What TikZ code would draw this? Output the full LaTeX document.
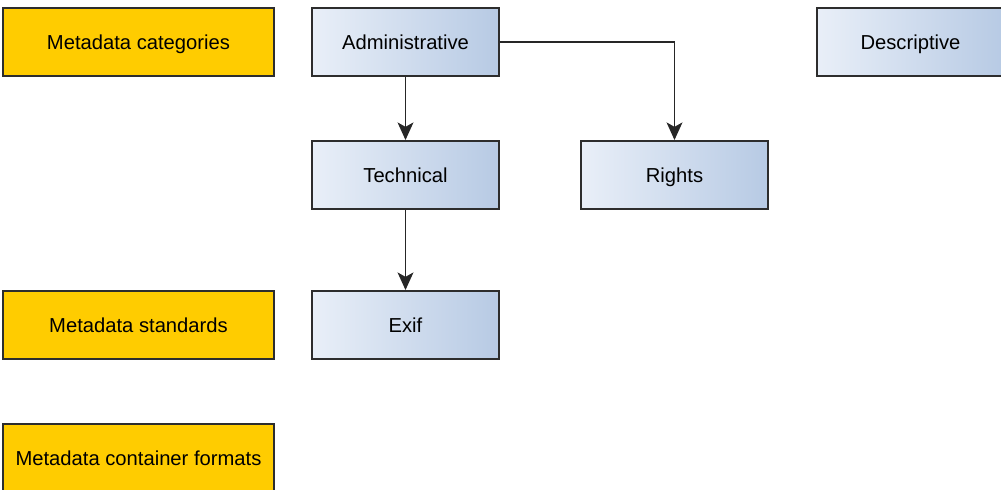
\documentclass[tikz,border=0pt]{standalone}
\usepackage{fontspec}
\setmainfont{Liberation Sans}
\usetikzlibrary{positioning,arrows.meta}
\definecolor{catyellow}{RGB}{255,204,0}
\definecolor{boxlight}{RGB}{233,239,248}
\definecolor{boxdark}{RGB}{183,202,228}
\definecolor{boxline}{RGB}{45,45,45}
\tikzset{
  every node/.style={font=\fontsize{11.5}{14}\selectfont, text height=10pt, text depth=1pt},
  catbox/.style={draw=boxline, line width=1.1pt, fill=catyellow,
    minimum width=5.42cm, minimum height=1.36cm, inner sep=0pt},
  metabox/.style={draw=boxline, line width=1.1pt, left color=boxlight, right color=boxdark,
    minimum width=3.74cm, minimum height=1.36cm, inner sep=0pt},
  link/.style={draw=black!85, line width=1.1pt, -{Stealth[length=10pt,width=9pt,inset=2.5pt]}}
}

\begin{document}
\begin{tikzpicture}[x=0.02cm, y=-0.02cm]
  \useasboundingbox (0,0) rectangle (1001,490);

  % row labels
  \node [catbox] (cat)  at (138.5,42)  {Metadata categories};
  \node [catbox] (std)  at (138.5,325) {Metadata standards};
  \node [catbox] (cont) at (138.5,458) {Metadata container formats};

  % categories
  \node [metabox] (adm)    at (405.5,42)  {Administrative};
  \node [metabox] (desc)   at (910.5,42)  {Descriptive};
  \node [metabox] (tech)   at (405.5,175) {Technical};
  \node [metabox] (rights) at (674.5,175) {Rights};
  \node [metabox] (exif)   at (405.5,325) {Exif};

  \draw [link] (adm) -- (tech);
  \draw [link] (adm.east) -| (rights);
  \draw [link] (tech) -- (exif);
\end{tikzpicture}
\end{document}
